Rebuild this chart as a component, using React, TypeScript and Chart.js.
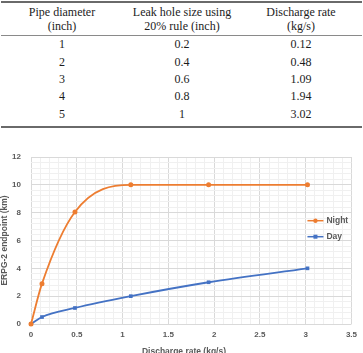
import { useEffect, useRef } from "react";
import { Chart, registerables } from "chart.js";

Chart.register(...registerables);

// Table contents
const pipeDiameters = ["1", "2", "3", "4", "5"];
const holeSizes = ["0.2", "0.4", "0.6", "0.8", "1"];
const dischargeRates = ["0.12", "0.48", "1.09", "1.94", "3.02"];
const tableHeaders = [
  ["Pipe diameter", "(inch)"],
  ["Leak hole size using", "20% rule (inch)"],
  ["Discharge rate", "(kg/s)"],
];

// Chart series: ERPG-2 endpoint distance (km) against discharge rate (kg/s)
const rateValues = [0, 0.12, 0.48, 1.09, 1.94, 3.02];
const nightEndpoint = [0, 2.9, 8.05, 10, 10, 10];
const dayEndpoint = [0, 0.5, 1.15, 2, 3, 4];
const seriesNames = ["Night", "Day"];

const ORANGE = "#ED7D31";
const BLUE = "#4472C4";
const TEXT = "#595959";
const MAJOR_GRID = "#d9d9d9";
const MINOR_GRID = "#f0f0f0";
const SANS = '"Liberation Sans", Arial, sans-serif';

const isMajor = (v: number, step: number) =>
  Math.abs(v / step - Math.round(v / step)) < 1e-6;
const fmt = (v: number) => String(Math.round(v * 10) / 10);

const colLeft = [2, 122, 242];
const colWidth = [120, 120, 118];
const rowTop = 36.4;
const rowHeight = 17.3;

function DataTable() {
  const columns = [pipeDiameters, holeSizes, dischargeRates];
  return (
    <div
      style={{
        position: "absolute",
        left: 0,
        top: 0,
        width: 363,
        height: 130,
        fontFamily: '"Liberation Serif", "Times New Roman", serif',
        fontSize: 12,
        color: "#1c1c1c",
      }}
    >
      <div style={{ position: "absolute", left: 1, top: 1, width: 361, height: 2, background: "#6a6a6a" }} />
      <div style={{ position: "absolute", left: 1, top: 35, width: 361, height: 1, background: "#8a8a8a" }} />
      <div style={{ position: "absolute", left: 1, top: 126, width: 361, height: 2, background: "#6a6a6a" }} />
      {tableHeaders.map((lines, c) => (
        <div
          key={"h" + c}
          style={{
            position: "absolute",
            left: colLeft[c],
            width: colWidth[c],
            top: 5,
            lineHeight: "14px",
            textAlign: "center",
            whiteSpace: "nowrap",
          }}
        >
          {lines.map((t, i) => (
            <div key={i}>{t}</div>
          ))}
        </div>
      ))}
      {columns.map((col, c) =>
        col.map((t, r) => (
          <div
            key={c + "-" + r}
            style={{
              position: "absolute",
              left: colLeft[c],
              width: colWidth[c],
              top: rowTop + r * rowHeight,
              height: rowHeight,
              lineHeight: rowHeight + "px",
              textAlign: "center",
            }}
          >
            {t}
          </div>
        ))
      )}
    </div>
  );
}

// Draws the in-plot legend and the x-axis title
const overlay = {
  id: "overlay",
  afterDraw(chart: any) {
    const { ctx } = chart;
    ctx.save();
    const colors = [ORANGE, BLUE];
    const styles = ["circle", "rect"];
    const area = chart.chartArea;
    const x0 = area.right - 44;
    seriesNames.forEach((name, i) => {
      const y = 80.7 + i * 16;
      ctx.strokeStyle = colors[i];
      ctx.lineWidth = 1.5;
      ctx.beginPath();
      ctx.moveTo(x0, y);
      ctx.lineTo(x0 + 16, y);
      ctx.stroke();
      ctx.fillStyle = colors[i];
      if (styles[i] === "circle") {
        ctx.beginPath();
        ctx.arc(x0 + 8, y, 2.2, 0, Math.PI * 2);
        ctx.fill();
      } else {
        ctx.fillRect(x0 + 6, y - 2, 4, 4);
      }
      ctx.fillStyle = TEXT;
      ctx.font = `bold 8.5px ${SANS}`;
      ctx.textAlign = "left";
      ctx.textBaseline = "middle";
      ctx.fillText(name, x0 + 19, y);
    });
    ctx.fillStyle = TEXT;
    ctx.font = `bold 8.5px ${SANS}`;
    ctx.textAlign = "center";
    ctx.textBaseline = "middle";
    ctx.fillText("Discharge rate (kg/s)", 184, 212);
    ctx.restore();
  },
};

function EndpointChart() {
  const ref = useRef<HTMLCanvasElement>(null);
  useEffect(() => {
    const canvas = ref.current;
    if (!canvas) return;
    const tickFont = { family: SANS, size: 8, weight: "bold" as const };
    const chart = new Chart(canvas, {
      type: "scatter",
      data: {
        datasets: [
          {
            label: seriesNames[0],
            data: rateValues.map((x, i) => ({ x, y: nightEndpoint[i] })),
            showLine: true,
            borderColor: ORANGE,
            backgroundColor: ORANGE,
            borderWidth: 1.8,
            pointStyle: "circle",
            pointRadius: 2.5,
            pointBorderWidth: 0,
            cubicInterpolationMode: "monotone",
            clip: false,
          },
          {
            label: seriesNames[1],
            data: rateValues.map((x, i) => ({ x, y: dayEndpoint[i] })),
            showLine: true,
            borderColor: BLUE,
            backgroundColor: BLUE,
            borderWidth: 1.8,
            pointStyle: "rect",
            pointRadius: 2.6,
            pointBorderWidth: 0,
            cubicInterpolationMode: "monotone",
            clip: false,
          },
        ],
      },
      options: {
        responsive: false,
        animation: false,
        events: [],
        layout: { padding: { top: 17, right: 7, left: 0, bottom: 0 } },
        plugins: { legend: { display: false }, tooltip: { enabled: false } },
        scales: {
          x: {
            type: "linear",
            min: 0,
            max: 3.5,
            border: { display: false },
            grid: {
              drawTicks: false,
              color: (c: any) => (isMajor(c.tick.value, 0.5) ? MAJOR_GRID : MINOR_GRID),
            },
            ticks: {
              stepSize: 0.1,
              autoSkip: false,
              maxRotation: 0,
              padding: 6,
              color: TEXT,
              font: tickFont,
              callback: (v: any) => (isMajor(Number(v), 0.5) ? fmt(Number(v)) : ""),
            },
            afterFit: (s: any) => {
              s.height = 41;
            },
          },
          y: {
            type: "linear",
            min: 0,
            max: 12,
            border: { display: false },
            grid: {
              drawTicks: false,
              color: (c: any) => (isMajor(c.tick.value, 2) ? MAJOR_GRID : MINOR_GRID),
            },
            ticks: {
              stepSize: 0.4,
              autoSkip: false,
              padding: 10,
              color: TEXT,
              font: tickFont,
              callback: (v: any) => (isMajor(Number(v), 2) ? fmt(Number(v)) : ""),
            },
            title: {
              display: true,
              text: "ERPG-2 endpoint (km)",
              color: TEXT,
              padding: 0,
              font: { family: SANS, size: 8.5, weight: "bold" },
            },
            afterFit: (s: any) => {
              s.width = 31;
            },
          },
        },
      },
      plugins: [overlay],
    });
    return () => chart.destroy();
  }, []);
  return (
    <canvas
      ref={ref}
      width={363}
      height={225}
      style={{ position: "absolute", left: 0, top: 140, width: 363, height: 225, display: "block" }}
    />
  );
}

export default function App() {
  return (
    <div
      style={{
        position: "fixed",
        left: 0,
        top: 0,
        width: 363,
        height: 353,
        overflow: "hidden",
        background: "#fff",
      }}
    >
      <DataTable />
      <EndpointChart />
    </div>
  );
}
